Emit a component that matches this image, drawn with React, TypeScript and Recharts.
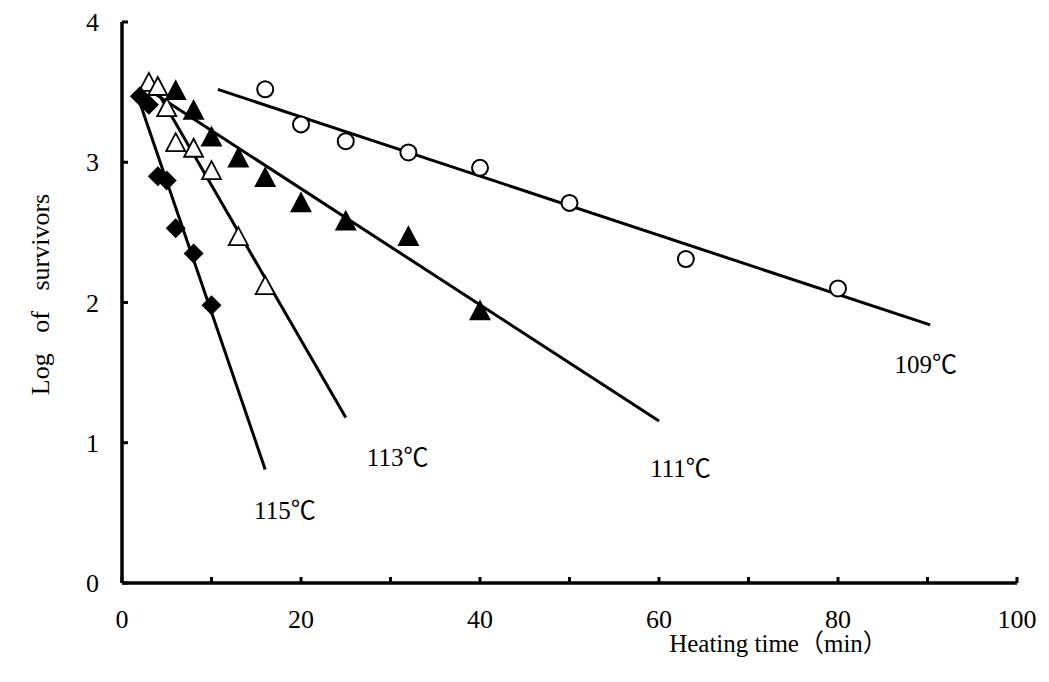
import React from 'react';
import { ComposedChart, Scatter, XAxis, YAxis } from 'recharts';

const FONT = "'Liberation Serif', 'Times New Roman', 'Noto Sans CJK JP', serif";

const xTicks = [0, 10, 20, 30, 40, 50, 60, 70, 80, 90, 100];
const yTicks = [0, 1, 2, 3, 4];

// measured points
const data109 = [
  { x: 16, y: 3.52 }, { x: 20, y: 3.27 }, { x: 25, y: 3.15 }, { x: 32, y: 3.07 },
  { x: 40, y: 2.96 }, { x: 50, y: 2.71 }, { x: 63, y: 2.31 }, { x: 80, y: 2.1 },
];
const data111 = [
  { x: 6, y: 3.51 }, { x: 8, y: 3.37 }, { x: 10, y: 3.18 }, { x: 13, y: 3.03 },
  { x: 16, y: 2.89 }, { x: 20, y: 2.71 }, { x: 25, y: 2.58 }, { x: 32, y: 2.47 },
  { x: 40, y: 1.94 },
];
const data113 = [
  { x: 3, y: 3.57 }, { x: 4, y: 3.54 }, { x: 5, y: 3.39 }, { x: 6, y: 3.14 },
  { x: 8, y: 3.1 }, { x: 10, y: 2.94 }, { x: 13, y: 2.47 }, { x: 16, y: 2.12 },
];
const data115 = [
  { x: 2, y: 3.47 }, { x: 3, y: 3.41 }, { x: 4, y: 2.9 }, { x: 5, y: 2.87 },
  { x: 6, y: 2.53 }, { x: 8, y: 2.35 }, { x: 10, y: 1.98 },
];

// fitted lines
const fit109 = [{ x: 10.7, y: 3.52 }, { x: 90.3, y: 1.84 }];
const fit111 = [{ x: 2.9, y: 3.52 }, { x: 60, y: 1.155 }];
const fit113 = [{ x: 2.9, y: 3.62 }, { x: 25, y: 1.18 }];
const fit115 = [{ x: 1.7, y: 3.48 }, { x: 16, y: 0.81 }];

const tempLabels = [
  { x: 89.8, y: 1.56, text: '109℃' },
  { x: 62.4, y: 0.82, text: '111℃' },
  { x: 30.8, y: 0.9, text: '113℃' },
  { x: 18.2, y: 0.52, text: '115℃' },
];

const Circle = (p: any) => (
  <circle cx={p.cx} cy={p.cy} r={8} fill="#fff" stroke="#000" strokeWidth={2} />
);
const Tri = (fill: string) => (p: any) => (
  <path
    d={`M${p.cx},${p.cy - 9.5} L${p.cx + 9.5},${p.cy + 8.5} L${p.cx - 9.5},${p.cy + 8.5} Z`}
    fill={fill}
    stroke="#000"
    strokeWidth={1.8}
  />
);
const Diamond = (p: any) => (
  <path
    d={`M${p.cx},${p.cy - 10} L${p.cx + 10},${p.cy} L${p.cx},${p.cy + 10} L${p.cx - 10},${p.cy} Z`}
    fill="#000"
  />
);
const NoDot = () => <g />;
const LabelText = (p: any) => (
  <text
    x={p.cx}
    y={p.cy}
    dy="0.35em"
    textAnchor="middle"
    fontFamily={FONT}
    fontSize={25}
    fill="#000"
  >
    {p.payload.text}
  </text>
);

const XTick = (p: any) => {
  if (p.payload.value % 20 !== 0) return <g />;
  return (
    <text x={p.x} y={p.y + 16} textAnchor="middle" fontFamily={FONT} fontSize={26} fill="#000">
      {p.payload.value}
    </text>
  );
};
const YTick = (p: any) => (
  <text x={p.x} y={p.y} dy="0.35em" textAnchor="end" fontFamily={FONT} fontSize={26} fill="#000">
    {p.payload.value}
  </text>
);

const lineStyle = { stroke: '#000', strokeWidth: 3 };
const axisLine = { stroke: '#000', strokeWidth: 3.5 };
const tickLine = { stroke: '#000', strokeWidth: 3 };

export default function App() {
  return (
    <ComposedChart
      width={1033}
      height={666}
      margin={{ top: 14, right: 24, bottom: 21, left: 54 }}
      style={{ background: '#fff' }}
    >
      <XAxis
        type="number"
        dataKey="x"
        domain={[0, 100]}
        ticks={xTicks}
        axisLine={axisLine}
        tickLine={tickLine}
        tickSize={-6}
        tickMargin={35}
        tick={XTick}
        height={70}
        allowDataOverflow
        label={{
          content: (props: any) => {
            const vb = props.viewBox;
            return (
              <text
                x={vb.x + vb.width / 2 + 209}
                y={vb.y + 69}
                textAnchor="middle"
                fontFamily={FONT}
                fontSize={25}
                fill="#000"
              >
                Heating time（min）
              </text>
            );
          },
        }}
      />
      <YAxis
        type="number"
        dataKey="y"
        domain={[0, 4]}
        ticks={yTicks}
        axisLine={axisLine}
        tickLine={tickLine}
        tickSize={-6}
        tickMargin={29}
        tick={YTick}
        width={60}
        allowDataOverflow
        label={{
          content: (props: any) => {
            const vb = props.viewBox;
            const cx = vb.x - 22;
            const cy = vb.y + vb.height / 2 - 8;
            return (
              <text
                x={cx}
                y={cy}
                transform={`rotate(-90 ${cx} ${cy})`}
                textAnchor="middle"
                dominantBaseline="central"
                fontFamily={FONT}
                fontSize={26}
                wordSpacing={14}
                fill="#000"
              >
                Log of survivors
              </text>
            );
          },
        }}
      />
      <Scatter data={fit109} line={lineStyle} shape={NoDot} isAnimationActive={false} />
      <Scatter data={fit111} line={lineStyle} shape={NoDot} isAnimationActive={false} />
      <Scatter data={fit113} line={lineStyle} shape={NoDot} isAnimationActive={false} />
      <Scatter data={fit115} line={lineStyle} shape={NoDot} isAnimationActive={false} />
      <Scatter data={data109} shape={Circle} isAnimationActive={false} />
      <Scatter data={data111} shape={Tri('#000')} isAnimationActive={false} />
      <Scatter data={data113} shape={Tri('#fff')} isAnimationActive={false} />
      <Scatter data={data115} shape={Diamond} isAnimationActive={false} />
      <Scatter data={tempLabels} shape={LabelText} isAnimationActive={false} />
    </ComposedChart>
  );
}
